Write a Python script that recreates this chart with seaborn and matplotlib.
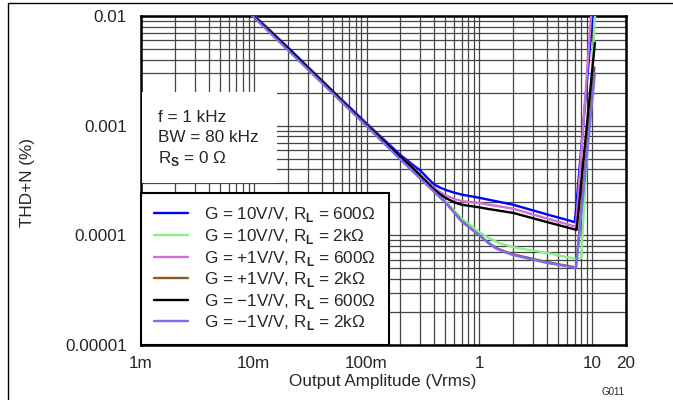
import numpy as np
import pandas as pd
import matplotlib
matplotlib.use('Agg')
import matplotlib.pyplot as plt
import matplotlib.ticker as mticker
from matplotlib.patches import Rectangle
from matplotlib.lines import Line2D
import seaborn as sns

# series (x in Vrms, y in %)
labels = [
    r'G = 10V/V, R$_\mathbf{L}$ = 600Ω',
    r'G = 10V/V, R$_\mathbf{L}$ = 2kΩ',
    r'G = +1V/V, R$_\mathbf{L}$ = 600Ω',
    r'G = +1V/V, R$_\mathbf{L}$ = 2kΩ',
    r'G = −1V/V, R$_\mathbf{L}$ = 600Ω',
    r'G = −1V/V, R$_\mathbf{L}$ = 2kΩ',
]
colors = ['#0000ff', '#88f088', '#d070d0', '#8b5a2b', '#000000', '#7b6cf0']

x_blue = [0.009, 0.02, 0.05, 0.1, 0.2, 0.25, 0.3, 0.35, 0.4, 0.45, 0.5, 0.6, 0.7, 1.0, 2.0, 4.0, 7.05, 10.2]
y_blue = [0.0113, 0.0052, 0.00208, 0.00105, 0.00054, 0.00045, 0.00039, 0.00033, 0.00029, 0.000272, 0.00026, 0.000245, 0.000235, 0.00022, 0.00019, 0.000155, 0.000132, 0.0112]

x_green = [0.009, 0.02, 0.05, 0.1, 0.2, 0.3, 0.5, 0.7, 1.0, 1.2, 1.5, 2.0, 4.0, 7.2, 8.0, 10.7]
y_green = [0.0111, 0.0051, 0.00203, 0.00102, 0.00051, 0.000335, 0.000205, 0.000142, 0.000107, 0.000095, 0.000085, 0.000078, 0.000069, 0.000061, 0.000062, 0.0112]

x_pink = [0.009, 0.02, 0.05, 0.1, 0.2, 0.25, 0.3, 0.35, 0.4, 0.45, 0.5, 0.6, 0.7, 1.0, 2.0, 4.0, 7.2, 9.9]
y_pink = [0.0112, 0.0051, 0.00205, 0.00103, 0.00052, 0.00043, 0.000355, 0.000305, 0.00027, 0.000248, 0.000232, 0.000215, 0.000205, 0.000197, 0.000175, 0.000142, 0.00012, 0.0115]

x_brown = [0.009, 0.02, 0.05, 0.1, 0.2, 0.3, 0.5, 0.7, 1.0, 1.2, 1.4, 1.7, 2.0, 4.0, 7.2, 10.5]
y_brown = [0.011, 0.005, 0.002, 0.001, 0.0005, 0.00033, 0.0002, 0.000135, 0.0001, 0.000086, 0.000077, 0.000071, 0.000067, 0.000057, 0.000051, 0.0034]

x_black = [0.009, 0.02, 0.05, 0.1, 0.2, 0.25, 0.3, 0.35, 0.4, 0.45, 0.5, 0.6, 0.7, 1.0, 1.2, 2.0, 4.0, 7.3, 10.6]
y_black = [0.0111, 0.0051, 0.00204, 0.00102, 0.00052, 0.000425, 0.00035, 0.000298, 0.00026, 0.000237, 0.00022, 0.0002, 0.00019, 0.00018, 0.000174, 0.00016, 0.000132, 0.000112, 0.0057]

x_purple = [0.009, 0.02, 0.05, 0.1, 0.2, 0.3, 0.5, 0.7, 1.0, 1.2, 1.4, 1.7, 2.0, 4.0, 7.2, 10.6]
y_purple = [0.0108, 0.0049, 0.00197, 0.00099, 0.00049, 0.00033, 0.0002, 0.000133, 0.0001, 0.000085, 0.000076, 0.00007, 0.000066, 0.000056, 0.0000505, 0.003]

xs = [x_blue, x_green, x_pink, x_brown, x_black, x_purple]
ys = [y_blue, y_green, y_pink, y_brown, y_black, y_purple]

x_ticks = [0.001, 0.01, 0.1, 1, 10, 20]
x_ticklabels = ['1m', '10m', '100m', '1', '10', '20']
y_ticks = [0.00001, 0.0001, 0.001, 0.01]
y_ticklabels = ['0.00001', '0.0001', '0.001', '0.01']

FS = 12.3

sns.set_style('white')
plt.rcParams['font.family'] = ['Liberation Sans', 'DejaVu Sans']
plt.rcParams['mathtext.fontset'] = 'custom'
plt.rcParams['mathtext.rm'] = 'Liberation Sans'
plt.rcParams['mathtext.bf'] = 'Liberation Sans:bold'

fig = plt.figure(figsize=(6.73, 4), dpi=100)
ax = fig.add_axes([141 / 673, 55 / 400, 485 / 673, 329 / 400])

for x, y, lab, c in zip(xs, ys, labels, colors):
    sns.lineplot(x=x, y=y, ax=ax, color=c, lw=1.7, label=lab, estimator=None, sort=False, zorder=3)

ax.set_xscale('log')
ax.set_yscale('log')
ax.set_xlim(0.001, 20)
ax.set_ylim(0.00001, 0.01)

ax.xaxis.set_major_locator(mticker.FixedLocator(x_ticks))
ax.xaxis.set_major_formatter(mticker.FixedFormatter(x_ticklabels))
ax.xaxis.set_minor_locator(mticker.LogLocator(base=10, subs=np.arange(2, 10)))
ax.xaxis.set_minor_formatter(mticker.NullFormatter())
ax.yaxis.set_major_locator(mticker.FixedLocator(y_ticks))
ax.yaxis.set_major_formatter(mticker.FixedFormatter(y_ticklabels))
ax.yaxis.set_minor_locator(mticker.LogLocator(base=10, subs=np.arange(2, 10)))
ax.yaxis.set_minor_formatter(mticker.NullFormatter())

ax.grid(True, which='both', color='#444444', lw=0.9, zorder=1)
ax.tick_params(which='both', direction='in', length=4, width=0.8, color='#444444',
               labelsize=FS)
ax.tick_params(axis='x', pad=8)
ax.tick_params(axis='y', pad=10)
for s in ax.spines.values():
    s.set_linewidth(1.8)
    s.set_color('black')

ax.set_xlabel('Output Amplitude (Vrms)', fontsize=FS)
ax.set_ylabel('THD+N (%)', fontsize=FS)
ax.xaxis.set_label_coords(0.499, -0.088)
ax.yaxis.set_label_coords(-0.219, 0.495)

leg = ax.legend(loc='lower left', bbox_to_anchor=(0, 0), borderaxespad=0,
                fontsize=FS, frameon=True, fancybox=False, framealpha=1,
                edgecolor='black', handlelength=2.0, handletextpad=0.95,
                labelspacing=0.15, borderpad=0.75)
leg.get_frame().set_linewidth(1.5)
leg.set_zorder(5)

# white box behind the test conditions
ax.add_patch(Rectangle((0.002, 0.492), 0.278, 0.277, transform=ax.transAxes,
                       facecolor='white', edgecolor='none', zorder=4))
cond = ['f = 1 kHz', 'BW = 80 kHz', r'R$_\mathbf{S}$ = 0 Ω']
for i, t in enumerate(cond):
    ax.text(0.035, 0.693 - i * 0.0625, t, transform=ax.transAxes, fontsize=FS,
            va='center', ha='left', zorder=6)

fig.text(613 / 673, 1 - 392 / 400, 'G011', fontsize=7, ha='center', va='center')
fig.lines.append(Line2D([8 / 673, 8 / 673, 1.1], [-0.1, 1 - 3 / 400, 1 - 3 / 400],
                        transform=fig.transFigure, color='black', lw=1.0))

fig.savefig('out.png', dpi=100)
